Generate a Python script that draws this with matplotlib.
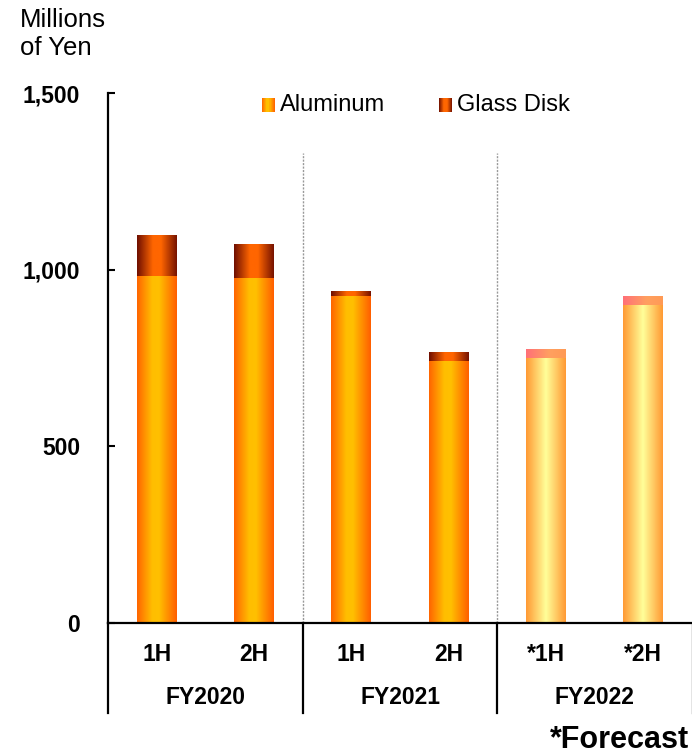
import numpy as np
import matplotlib
matplotlib.use("Agg")
import matplotlib.pyplot as plt
from matplotlib.colors import LinearSegmentedColormap
from matplotlib.patches import Rectangle
from matplotlib.legend_handler import HandlerBase

plt.rcParams["font.family"] = ["Liberation Sans", "DejaVu Sans"]

# ── Dados (milhões de ienes) ─────────────────────────────────────────────
halves   = ["1H", "2H", "1H", "2H", "*1H", "*2H"]
years    = ["FY2020", "FY2021", "FY2022"]
aluminum = [982, 976, 925, 741, 750, 900]
glass    = [116, 97, 15, 26, 25, 25]
forecast = [False, False, False, False, True, True]

# gradientes horizontais das barras
cm_al  = LinearSegmentedColormap.from_list("al", [(0, "#FF6400"), (0.38, "#FFBE00"),
                                                  (0.55, "#FFC000"), (1, "#FF5E00")])
cm_gl  = LinearSegmentedColormap.from_list("gl", [(0, "#6E0E00"), (0.4, "#FF6600"),
                                                  (0.6, "#FF6600"), (1, "#761200")])
cm_alf = LinearSegmentedColormap.from_list("alf", [(0, "#FF9933"), (0.5, "#FFFF99"),
                                                   (1, "#FF9933")])
cm_glf = LinearSegmentedColormap.from_list("glf", [(0, "#FF7078"), (0.6, "#FFA060"),
                                                   (1, "#FF9A55")])
ramp = np.linspace(0, 1, 256).reshape(1, -1)


def pinta(ax, bars, cmaps):
    for b, cm in zip(bars, cmaps):
        x0, y0 = b.get_x(), b.get_y()
        im = ax.imshow(ramp, cmap=cm, aspect="auto", interpolation="bilinear",
                       extent=(x0, x0 + b.get_width(), y0, y0 + b.get_height()),
                       zorder=2)
        im.set_clip_path(b)


class GradHandler(HandlerBase):
    def __init__(self, cmap):
        super().__init__()
        self.cmap = cmap

    def create_artists(self, legend, orig, xd, yd, w, h, fontsize, trans):
        n = 12
        out = []
        for i in range(n):
            r = Rectangle((xd + w * i / n, yd), w / n + 0.3, h,
                          facecolor=self.cmap((i + 0.5) / n), edgecolor="none",
                          transform=trans)
            out.append(r)
        return out


fig = plt.figure(figsize=(6.92, 7.54), dpi=100)
ax = fig.add_axes([108 / 692, 131 / 754, 584 / 692, 530 / 754])

x = np.arange(len(halves))
b1 = ax.bar(x, aluminum, width=0.41, color="none", zorder=2)
b2 = ax.bar(x, glass, width=0.41, bottom=aluminum, color="none", zorder=2)
pinta(ax, b1, [cm_alf if f else cm_al for f in forecast])
pinta(ax, b2, [cm_glf if f else cm_gl for f in forecast])

ax.set_xlim(-0.5, len(halves) - 0.5)
ax.set_ylim(0, 1500)
ax.set_yticks([0, 500, 1000, 1500])
ax.set_yticklabels(["0", "500", "1,000", "1,500"], fontsize=16.5, fontweight="bold")
ax.tick_params(axis="y", direction="in", length=5, width=1.5, pad=20)
ax.set_xticks([])
for s in ["top", "right"]:
    ax.spines[s].set_visible(False)
ax.spines["left"].set_linewidth(1.6)
ax.spines["bottom"].set_linewidth(1.6)

# separadores entre anos fiscais
for sx in [1.5, 3.5]:
    ax.plot([sx, sx], [0, 0.887], transform=ax.get_xaxis_transform(),
            color="#999999", lw=1, ls=(0, (1.5, 1)), zorder=1)

# tabela de categorias abaixo do eixo
tr = ax.get_xaxis_transform()
for i, h in enumerate(halves):
    ax.text(i, -0.060, h, transform=tr, ha="center", va="center",
            fontsize=16.5, fontweight="bold")
for j, y in enumerate(years):
    ax.text(2 * j + 0.5, -0.140, y, transform=tr, ha="center", va="center",
            fontsize=16.5, fontweight="bold")
for k, lx in enumerate([-0.5, 1.5, 3.5, 5.5]):
    ax.plot([lx, lx], [0, -0.17], transform=tr, clip_on=False,
            color="black" if k < 3 else "#777777", lw=1.6 if k < 3 else 1)

fig.text(20 / 692, 1 - 8 / 754, "Millions\nof Yen", fontsize=18.5,
         ha="left", va="top", linespacing=1.2)
fig.text(689 / 692, 1 - 740 / 754, "*Forecast", fontsize=22, fontweight="bold",
         ha="right", va="center")

h1 = Rectangle((0, 0), 1, 1)
h2 = Rectangle((0, 0), 1, 1)
ax.legend([h1, h2], ["Aluminum", "Glass Disk"], ncol=2, frameon=False,
          loc="center", bbox_to_anchor=(0.527, 0.978), fontsize=17,
          handlelength=0.55, handleheight=0.55, handletextpad=0.2,
          columnspacing=2.3,
          handler_map={h1: GradHandler(cm_al), h2: GradHandler(cm_gl)})

fig.savefig("out.png", dpi=100)
